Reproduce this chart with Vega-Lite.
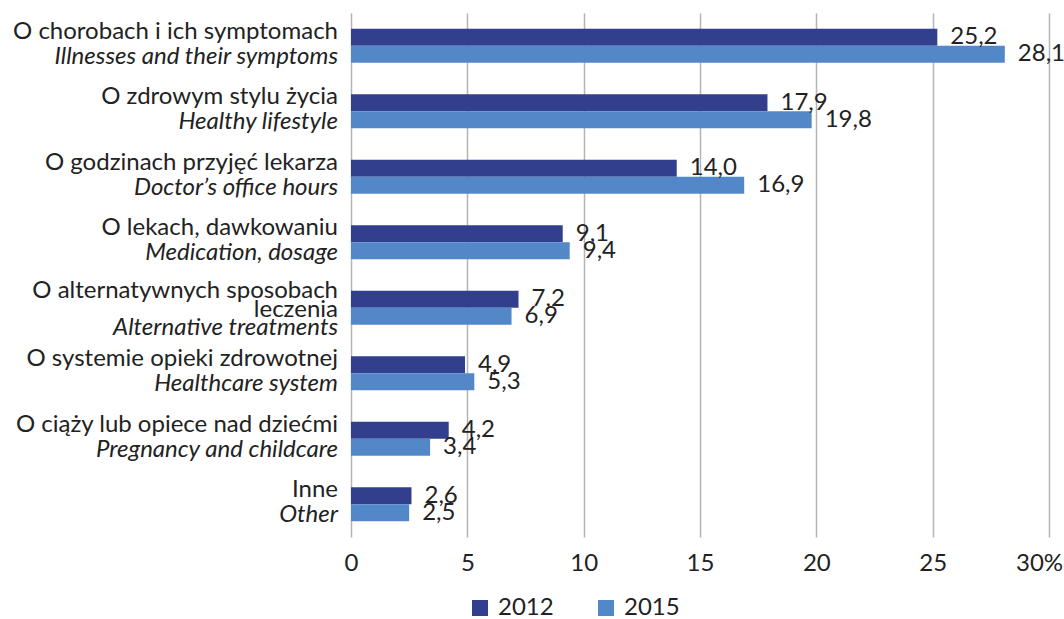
{
  "$schema": "https://vega.github.io/schema/vega-lite/v6.json",
  "width": 698,
  "height": 524,
  "autosize": {"type": "none"},
  "padding": {"left": 351, "top": 13, "right": 15, "bottom": 82},
  "background": "white",
  "config": {
    "view": {"stroke": null},
    "font": "Lato",
    "text": {"font": "Lato", "fontSize": 24, "color": "#222222"},
    "locale": {"number": {"decimal": ",", "thousands": "\u00a0", "grouping": [3], "currency": ["", " zł"]}}
  },
  "datasets": {
    "bars": [
      {"cat": "O chorobach i ich symptomach", "year": "2012", "value": 25.2},
      {"cat": "O chorobach i ich symptomach", "year": "2015", "value": 28.1},
      {"cat": "O zdrowym stylu życia", "year": "2012", "value": 17.9},
      {"cat": "O zdrowym stylu życia", "year": "2015", "value": 19.8},
      {"cat": "O godzinach przyjęć lekarza", "year": "2012", "value": 14.0},
      {"cat": "O godzinach przyjęć lekarza", "year": "2015", "value": 16.9},
      {"cat": "O lekach, dawkowaniu", "year": "2012", "value": 9.1},
      {"cat": "O lekach, dawkowaniu", "year": "2015", "value": 9.4},
      {"cat": "O alternatywnych sposobach leczenia", "year": "2012", "value": 7.2},
      {"cat": "O alternatywnych sposobach leczenia", "year": "2015", "value": 6.9},
      {"cat": "O systemie opieki zdrowotnej", "year": "2012", "value": 4.9},
      {"cat": "O systemie opieki zdrowotnej", "year": "2015", "value": 5.3},
      {"cat": "O ciąży lub opiece nad dziećmi", "year": "2012", "value": 4.2},
      {"cat": "O ciąży lub opiece nad dziećmi", "year": "2015", "value": 3.4},
      {"cat": "Inne", "year": "2012", "value": 2.6},
      {"cat": "Inne", "year": "2015", "value": 2.5}
    ],
    "labels": [
      {"cat": "O chorobach i ich symptomach", "pl1": "O chorobach i ich symptomach", "en": "Illnesses and their symptoms"},
      {"cat": "O zdrowym stylu życia", "pl1": "O zdrowym stylu życia", "en": "Healthy lifestyle"},
      {"cat": "O godzinach przyjęć lekarza", "pl1": "O godzinach przyjęć lekarza", "en": "Doctor’s office hours"},
      {"cat": "O lekach, dawkowaniu", "pl1": "O lekach, dawkowaniu", "en": "Medication, dosage"},
      {"cat": "O alternatywnych sposobach leczenia", "pl1": "O alternatywnych sposobach", "pl2": "leczenia", "en": "Alternative treatments"},
      {"cat": "O systemie opieki zdrowotnej", "pl1": "O systemie opieki zdrowotnej", "en": "Healthcare system"},
      {"cat": "O ciąży lub opiece nad dziećmi", "pl1": "O ciąży lub opiece nad dziećmi", "en": "Pregnancy and childcare"},
      {"cat": "Inne", "pl1": "Inne", "en": "Other"}
    ]
  },
  "layer": [
    {
      "data": {"name": "bars"},
      "mark": {"type": "bar"},
      "encoding": {
        "y": {
          "field": "cat", "type": "nominal", "sort": null,
          "scale": {
            "domain": ["O chorobach i ich symptomach", "O zdrowym stylu życia", "O godzinach przyjęć lekarza", "O lekach, dawkowaniu", "O alternatywnych sposobach leczenia", "O systemie opieki zdrowotnej", "O ciąży lub opiece nad dziećmi", "Inne"],
            "paddingInner": 0.48, "paddingOuter": 0.24
          },
          "axis": null
        },
        "yOffset": {"field": "year", "type": "nominal", "scale": {"paddingInner": 0, "paddingOuter": 0}},
        "x": {
          "field": "value", "type": "quantitative",
          "scale": {"domain": [0, 30], "nice": false},
          "axis": {
            "title": null,
            "values": [0, 5, 10, 15, 20, 25, 30],
            "grid": true, "gridColor": "#B5B5B5", "gridWidth": 1.5,
            "domain": false, "ticks": false,
            "labelFont": "Lato", "labelFontSize": 24, "labelColor": "#222222",
            "labelPadding": 14, "labelFlush": false,
            "labelOffset": {"condition": {"test": "datum.value == 30", "value": -10}, "value": 0},
            "labelExpr": "datum.value == 30 ? '30%' : datum.label"
          }
        },
        "color": {
          "field": "year", "type": "nominal",
          "scale": {"domain": ["2012", "2015"], "range": ["#323F8C", "#5388C8"]},
          "legend": {
            "title": null, "orient": "none", "legendX": 117, "legendY": 583,
            "direction": "horizontal", "symbolType": "square", "symbolSize": 256,
            "symbolStrokeWidth": 0, "labelFont": "Lato", "labelFontSize": 24, "labelColor": "#222222",
            "columnPadding": 40, "labelOffset": 6, "padding": 0
          }
        }
      }
    },
    {
      "data": {"name": "bars"},
      "mark": {"type": "text", "align": "left", "baseline": "middle", "dx": 13},
      "encoding": {
        "y": {"field": "cat", "type": "nominal", "sort": null},
        "yOffset": {"field": "year", "type": "nominal"},
        "x": {"field": "value", "type": "quantitative"},
        "text": {"field": "value", "type": "quantitative", "format": ".1f"}
      }
    },
    {
      "data": {"name": "labels"},
      "transform": [{"filter": "!isValid(datum.pl2)"}],
      "mark": {"type": "text", "align": "right", "baseline": "middle", "dx": -13, "dy": -14},
      "encoding": {
        "y": {"field": "cat", "type": "nominal", "sort": null},
        "x": {"datum": 0},
        "text": {"field": "pl1"}
      }
    },
    {
      "data": {"name": "labels"},
      "transform": [{"filter": "!isValid(datum.pl2)"}],
      "mark": {"type": "text", "align": "right", "baseline": "middle", "dx": -13, "dy": 11, "fontStyle": "italic"},
      "encoding": {
        "y": {"field": "cat", "type": "nominal", "sort": null},
        "x": {"datum": 0},
        "text": {"field": "en"}
      }
    },
    {
      "data": {"name": "labels"},
      "transform": [{"filter": "isValid(datum.pl2)"}],
      "mark": {"type": "text", "align": "right", "baseline": "middle", "dx": -13, "dy": -17},
      "encoding": {
        "y": {"field": "cat", "type": "nominal", "sort": null},
        "x": {"datum": 0},
        "text": {"field": "pl1"}
      }
    },
    {
      "data": {"name": "labels"},
      "transform": [{"filter": "isValid(datum.pl2)"}],
      "mark": {"type": "text", "align": "right", "baseline": "middle", "dx": -13, "dy": 2},
      "encoding": {
        "y": {"field": "cat", "type": "nominal", "sort": null},
        "x": {"datum": 0},
        "text": {"field": "pl2"}
      }
    },
    {
      "data": {"name": "labels"},
      "transform": [{"filter": "isValid(datum.pl2)"}],
      "mark": {"type": "text", "align": "right", "baseline": "middle", "dx": -13, "dy": 20, "fontStyle": "italic"},
      "encoding": {
        "y": {"field": "cat", "type": "nominal", "sort": null},
        "x": {"datum": 0},
        "text": {"field": "en"}
      }
    }
  ]
}
